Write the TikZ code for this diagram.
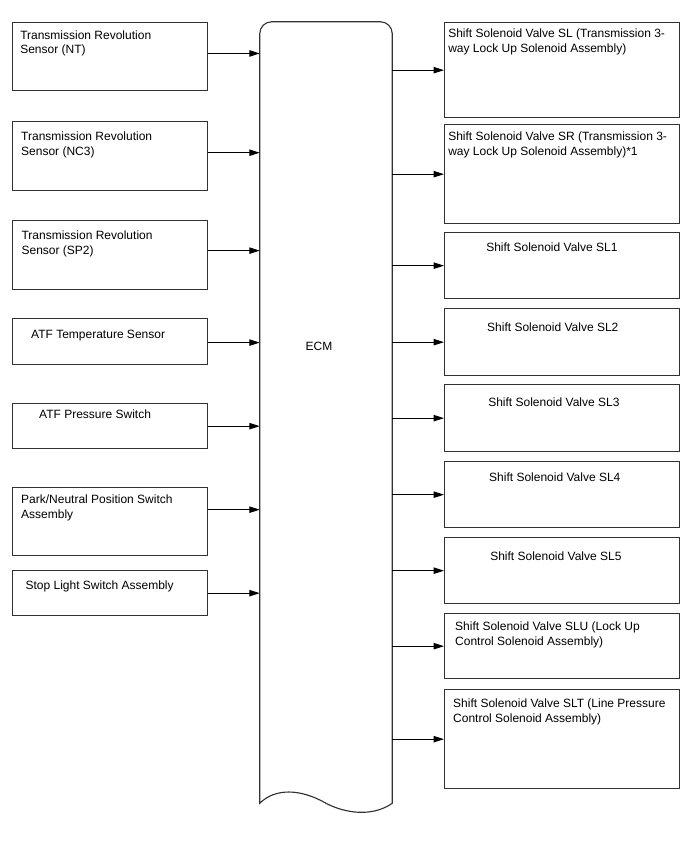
\documentclass[tikz,border=0pt]{standalone}
\usepackage{fontspec}
\setmainfont{Liberation Sans}
\usepackage{tikz}
\usetikzlibrary{arrows.meta,positioning}
\definecolor{boxline}{RGB}{50,50,50}

\begin{document}
\begin{tikzpicture}[
  x=0.75pt, y=-0.75pt,
  box/.style={
    rectangle, draw=boxline, line width=1pt,
    inner sep=0pt, anchor=north west
  },
  lbox/.style={box, minimum width=146.25pt},
  rbox/.style={box, minimum width=176.25pt},
  txt/.style={inner sep=0pt, align=left, font=\fontsize{9}{11}\selectfont},
  ptr/.style={-{Triangle[length=7.8pt,width=4.8pt]}, line width=0.75pt, black}
]
  \useasboundingbox (0,0) rectangle (688,852);

  \node[inner sep=0pt, minimum width=99pt, minimum height=585.75pt] (ecm) at (326,412.5) {};
  \draw[boxline, line width=0.85pt]
    (ecm.south east) -- ([yshift=-9pt]ecm.north east) arc (0:90:9pt)
    -- ([xshift=9pt]ecm.north west) arc (90:180:9pt)
    -- (ecm.south west) .. controls +(15,-15) and +(-26,-15) .. (ecm.south)
    .. controls +(19,10) and +(-20,14) .. (ecm.south east);
  \node[txt] (ecm-txt) at (319,346) {ECM};

  \node[lbox, minimum height=51pt] (nt) at (12,22) {};
  \node[lbox, minimum height=51.75pt] (nc3) at (12,121) {};
  \node[lbox, minimum height=51.75pt] (sp2) at (12,220) {};
  \node[lbox, minimum height=34.5pt] (atft) at (12,318) {};
  \node[lbox, minimum height=33.75pt] (atfp) at (12,403) {};
  \node[lbox, minimum height=51pt] (pnp) at (12,487) {};
  \node[lbox, minimum height=33.75pt] (stop) at (12,570) {};

  \node[txt, below right=6.2pt and 6pt of nt.north west] (nt-txt) {Transmission Revolution\\Sensor (NT)};
  \node[txt, below right=8.2pt and 6.7pt of nc3.north west] (nc3-txt) {Transmission Revolution\\Sensor (NC3)};
  \node[txt, below right=8pt and 7pt of sp2.north west] (sp2-txt) {Transmission Revolution\\Sensor (SP2)};
  \node[txt, below right=9pt and 14.2pt of atft.north west] (atft-txt) {ATF Temperature Sensor};
  \node[txt, below right=5.2pt and 20.2pt of atfp.north west] (atfp-txt) {ATF Pressure Switch};
  \node[txt, below right=6pt and 6.7pt of pnp.north west] (pnp-txt) {Park/Neutral Position Switch\\Assembly};
  \node[txt, below right=8.2pt and 10pt of stop.north west] (stop-txt) {Stop Light Switch Assembly};

  \draw[ptr] ([yshift=2.4pt]nt.east) -- ([yshift=2.4pt]nt.east -| ecm.west);
  \draw[ptr] ([yshift=2.6pt]nc3.east) -- ([yshift=2.6pt]nc3.east -| ecm.west);
  \draw[ptr] ([yshift=3.4pt]sp2.east) -- ([yshift=3.4pt]sp2.east -| ecm.west);
  \draw[ptr] ([yshift=-0.7pt]atft.east) -- ([yshift=-0.7pt]atft.east -| ecm.west);
  \draw[ptr] (atfp.east) -- (atfp.east -| ecm.west);
  \draw[ptr] ([yshift=9pt]pnp.east) -- ([yshift=9pt]pnp.east -| ecm.west);
  \draw[ptr] (stop.east) -- (stop.east -| ecm.west);

  \node[rbox, minimum height=71.25pt] (sl) at (444,22) {};
  \node[rbox, minimum height=74.25pt] (sr) at (444,124) {};
  \node[rbox, minimum height=49.5pt] (sl1) at (444,232) {};
  \node[rbox, minimum height=50.25pt] (sl2) at (444,308) {};
  \node[rbox, minimum height=50.25pt] (sl3) at (444,384) {};
  \node[rbox, minimum height=49.5pt] (sl4) at (444,461) {};
  \node[rbox, minimum height=49.5pt] (sl5) at (444,537) {};
  \node[rbox, minimum height=48.75pt] (slu) at (444,613) {};
  \node[rbox, minimum height=74.25pt] (slt) at (444,689) {};

  \node[txt, below right=5.2pt and 3pt of sl.north west] (sl-txt) {Shift Solenoid Valve SL (Transmission 3-\\way Lock Up Solenoid Assembly)};
  \node[txt, below right=6pt and 3pt of sr.north west] (sr-txt) {Shift Solenoid Valve SR (Transmission 3-\\way Lock Up Solenoid Assembly)*1};
  \node[txt, below right=8.2pt and 31.5pt of sl1.north west] (sl1-txt) {Shift Solenoid Valve SL1};
  \node[txt, below right=11.2pt and 32.2pt of sl2.north west] (sl2-txt) {Shift Solenoid Valve SL2};
  \node[txt, below right=10.5pt and 33pt of sl3.north west] (sl3-txt) {Shift Solenoid Valve SL3};
  \node[txt, below right=9pt and 33.7pt of sl4.north west] (sl4-txt) {Shift Solenoid Valve SL4};
  \node[txt, below right=11.2pt and 34.5pt of sl5.north west] (sl5-txt) {Shift Solenoid Valve SL5};
  \node[txt, below right=6.7pt and 8.2pt of slu.north west] (slu-txt) {Shift Solenoid Valve SLU (Lock Up\\Control Solenoid Assembly)};
  \node[txt, below right=7.5pt and 6.7pt of slt.north west] (slt-txt) {Shift Solenoid Valve SLT (Line Pressure\\Control Solenoid Assembly)};

  \draw[ptr] (sl.west -| ecm.east) -- (sl.west);
  \draw[ptr] (sr.west -| ecm.east) -- (sr.west);
  \draw[ptr] (sl1.west -| ecm.east) -- (sl1.west);
  \draw[ptr] (sl2.west -| ecm.east) -- (sl2.west);
  \draw[ptr] (sl3.west -| ecm.east) -- (sl3.west);
  \draw[ptr] (sl4.west -| ecm.east) -- (sl4.west);
  \draw[ptr] (sl5.west -| ecm.east) -- (sl5.west);
  \draw[ptr] (slu.west -| ecm.east) -- (slu.west);
  \draw[ptr] (slt.west -| ecm.east) -- (slt.west);
\end{tikzpicture}
\end{document}
